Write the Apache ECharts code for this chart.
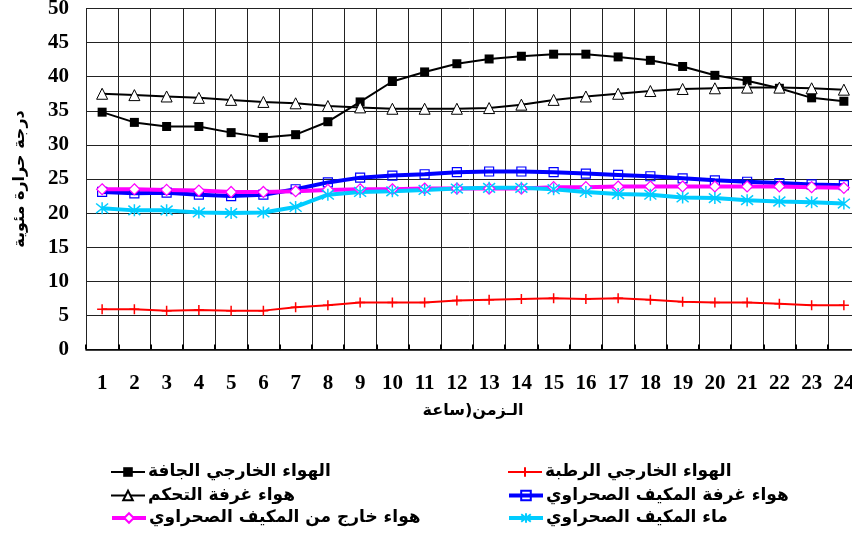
<!DOCTYPE html>
<html>
<head>
<meta charset="utf-8">
<script src="https://cdn.jsdelivr.net/npm/echarts@6/dist/echarts.min.js"></script>
<style>
  html, body { margin: 0; padding: 0; background: #fff; }
  #chart { width: 852px; height: 536px; }
</style>
</head>
<body>
<div id="chart"></div>
<script>
const hours = ['1', '2', '3', '4', '5', '6', '7', '8', '9', '10', '11', '12',
  '13', '14', '15', '16', '17', '18', '19', '20', '21', '22', '23', '24'];

const dryOutdoor = [34.8, 33.3, 32.7, 32.7, 31.8, 31.1, 31.5, 33.4, 36.3, 39.3, 40.7, 41.9,
  42.6, 43.0, 43.3, 43.3, 42.9, 42.4, 41.5, 40.2, 39.4, 38.3, 36.9, 36.4];
const wetOutdoor = [5.9, 5.9, 5.7, 5.8, 5.7, 5.7, 6.2, 6.5, 6.9, 6.9, 6.9, 7.2,
  7.3, 7.4, 7.5, 7.4, 7.5, 7.3, 7.0, 6.9, 6.9, 6.7, 6.5, 6.5];
const controlRoom = [37.5, 37.3, 37.1, 36.9, 36.6, 36.3, 36.1, 35.7, 35.5, 35.3, 35.3, 35.3,
  35.4, 35.9, 36.6, 37.1, 37.5, 37.9, 38.2, 38.3, 38.4, 38.4, 38.3, 38.1];
const coolerRoom = [23.1, 22.9, 23.0, 22.7, 22.5, 22.7, 23.5, 24.5, 25.2, 25.5, 25.7, 26.0,
  26.1, 26.1, 26.0, 25.8, 25.6, 25.4, 25.1, 24.8, 24.6, 24.4, 24.2, 24.1];
const coolerOutlet = [23.5, 23.5, 23.4, 23.3, 23.1, 23.1, 23.2, 23.4, 23.5, 23.5, 23.6, 23.6,
  23.6, 23.6, 23.8, 23.8, 23.9, 23.9, 23.9, 23.9, 23.9, 23.9, 23.8, 23.7];
const coolerWater = [20.7, 20.4, 20.4, 20.1, 20.0, 20.1, 20.9, 22.7, 23.1, 23.2, 23.4, 23.6,
  23.7, 23.7, 23.5, 23.1, 22.8, 22.7, 22.3, 22.2, 21.9, 21.7, 21.6, 21.4];

const names = {
  dry: 'الهواء الخارجي الجافة',
  wet: 'الهواء الخارجي الرطبة',
  control: 'هواء غرفة التحكم',
  room: 'هواء غرفة المكيف الصحراوي',
  outlet: 'هواء خارج من المكيف الصحراوي',
  water: 'ماء المكيف الصحراوي'
};

const numFont = 'Liberation Serif';
const arFont = 'DejaVu Sans';
const plusPath = 'path://M5,0L5,10M0,5L10,5';
const starPath = 'path://M5,0L5,10M1,1L9,9M1,9L9,1';

const chart = echarts.init(document.getElementById('chart'));

// one legend per entry so the 2x3 block sits exactly where it should
function legendItem(name, left, top, lineWidth) {
  return {
    data: [name],
    left: left,
    top: top,
    padding: 0,
    itemWidth: 34,
    itemHeight: 12,
    itemGap: 0,
    lineStyle: { width: lineWidth },
    textStyle: { fontFamily: arFont, fontWeight: 'bold', fontSize: 17, color: '#000', padding: [0, 0, 0, -2] }
  };
}

chart.setOption({
  animation: false,
  backgroundColor: '#fff',
  grid: { left: 86, width: 774, top: 8.5, bottom: 186.5, outerBoundsMode: 'none' },
  legend: [
    legendItem(names.dry, 110, 463.5, 2),
    legendItem(names.control, 110, 487, 2),
    legendItem(names.outlet, 110, 509.5, 4),
    legendItem(names.wet, 507, 463.5, 2),
    legendItem(names.room, 507, 487, 4),
    legendItem(names.water, 507, 509.5, 4)
  ],
  xAxis: {
    type: 'category',
    data: hours,
    boundaryGap: true,
    name: 'الـزمن(ساعة',
    nameLocation: 'middle',
    nameGap: 53,
    nameTextStyle: { fontFamily: arFont, fontWeight: 'bold', fontSize: 16, color: '#000' },
    axisLine: { lineStyle: { color: '#000', width: 1.5 } },
    axisTick: { show: true, inside: true, length: 5, lineStyle: { color: '#000', width: 2 } },
    axisLabel: { fontFamily: numFont, fontWeight: 'bold', fontSize: 21, color: '#000', margin: 24 },
    splitLine: { show: true, lineStyle: { color: '#222', width: 1 } }
  },
  yAxis: {
    type: 'value',
    min: 0,
    max: 50,
    interval: 5,
    name: 'درجة حرارة مئوية',
    nameLocation: 'middle',
    nameGap: 58,
    nameTextStyle: { fontFamily: arFont, fontWeight: 'bold', fontSize: 16, color: '#000' },
    axisLine: { show: true, lineStyle: { color: '#222', width: 1 } },
    axisTick: { show: false },
    axisLabel: { fontFamily: numFont, fontWeight: 'bold', fontSize: 21, color: '#000', margin: 17 },
    splitLine: { show: true, lineStyle: { color: '#222', width: 1 } }
  },
  series: [
    {
      name: names.dry,
      type: 'line',
      data: dryOutdoor,
      symbol: 'rect',
      symbolSize: 9,
      lineStyle: { color: '#000', width: 2 },
      itemStyle: { color: '#000' }
    },
    {
      name: names.wet,
      type: 'line',
      data: wetOutdoor,
      symbol: plusPath,
      symbolSize: 10,
      lineStyle: { color: '#ff0000', width: 2 },
      itemStyle: { color: 'rgba(0,0,0,0)', borderColor: '#ff0000', borderWidth: 1.5 }
    },
    {
      name: names.control,
      type: 'line',
      data: controlRoom,
      symbol: 'triangle',
      symbolSize: 11,
      lineStyle: { color: '#000', width: 2 },
      itemStyle: { color: '#fff', borderColor: '#000', borderWidth: 1 }
    },
    {
      name: names.room,
      type: 'line',
      data: coolerRoom,
      symbol: 'rect',
      symbolSize: 9,
      lineStyle: { color: '#0000ff', width: 4 },
      itemStyle: { color: 'rgba(0,0,0,0)', borderColor: '#0000ff', borderWidth: 1.2 }
    },
    {
      name: names.outlet,
      type: 'line',
      data: coolerOutlet,
      symbol: 'diamond',
      symbolSize: 11,
      lineStyle: { color: '#ff00ff', width: 4 },
      itemStyle: { color: '#fff', borderColor: '#ff00ff', borderWidth: 1.2 }
    },
    {
      name: names.water,
      type: 'line',
      data: coolerWater,
      symbol: starPath,
      symbolSize: 12,
      lineStyle: { color: '#00ccff', width: 4 },
      itemStyle: { color: 'rgba(0,0,0,0)', borderColor: '#00ccff', borderWidth: 1.5 }
    }
  ]
});
</script>
</body>
</html>
